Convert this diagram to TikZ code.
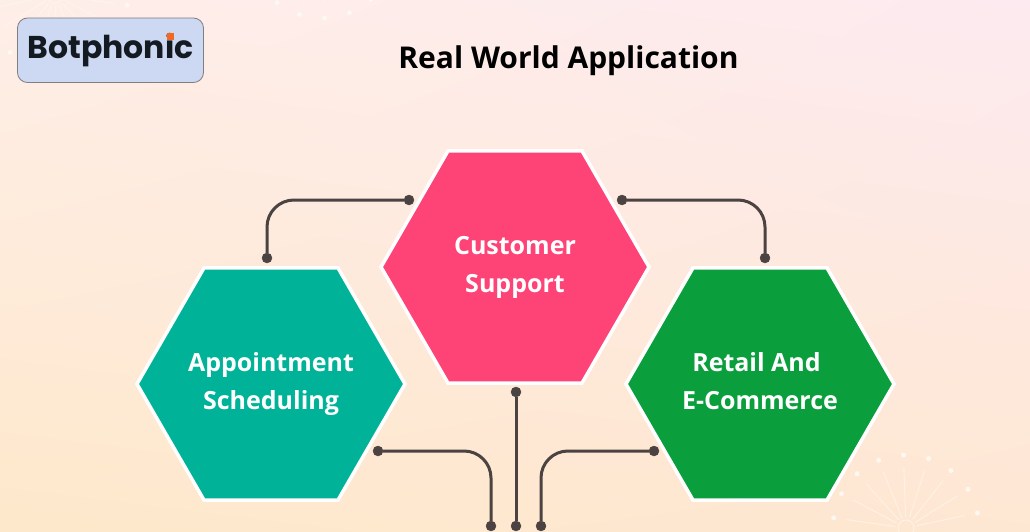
\documentclass[tikz,border=0pt]{standalone}
\usepackage{fontspec}
\setmainfont{Open Sans}
\newfontfamily\logofont{Poppins}
\usetikzlibrary{shapes.geometric,shadings}
\definecolor{linegray}{HTML}{4A4342}
\definecolor{hexpink}{HTML}{FE4376}
\definecolor{hexteal}{HTML}{00B398}
\definecolor{hexgreen}{HTML}{0A9E3C}
\definecolor{logoblue}{HTML}{CDD9F2}
\definecolor{logoink}{HTML}{141A22}
\definecolor{logoorange}{HTML}{F26A1F}
\definecolor{sparkwhite}{HTML}{FFF8F0}
\definecolor{bgll}{HTML}{FEE8CB}
\definecolor{bglr}{HTML}{FEE7D2}
\definecolor{bgul}{HTML}{FEEEE8}
\definecolor{bgur}{HTML}{FDEAF0}
\tikzstyle{hexnode}=[regular polygon,regular polygon sides=6,draw=white,line width=3.5pt,
                     minimum size=268pt,inner sep=-20pt,outer sep=0pt,align=center,
                     text=white,font=\bfseries\fontsize{25}{38}\selectfont]
\tikzstyle{dotnode}=[circle,draw=linegray,fill=linegray,
                     inner sep=0pt,minimum size=10pt]
\tikzstyle{wire}=[draw=linegray,line width=3pt,rounded corners=27pt]
\newcommand{\sparkle}[2]{%
    \foreach \a in {#2} {
      \draw[sparkwhite,line width=1pt,opacity=.6] (#1) ++(\a:11) -- ++(\a:49);
      \fill[sparkwhite] (#1) ++(\a:73) circle (2.5);
    }
    \draw[sparkwhite,line width=1pt,opacity=.6] (#1) circle (8);
}
\begin{document}
\begin{tikzpicture}[x=1pt,y=-1pt]
    \useasboundingbox (0,0) rectangle (1030,532);
    \shade[lower left=bgll,lower right=bglr,upper left=bgul,upper right=bgur]
        (0,0) rectangle (1030,532);
    % background sparkles
    \sparkle{906,528}{188,208,...,352}
    \sparkle{322,-55}{8,28,...,172}
    \sparkle{55,-5}{8,28,...,172}
    % logo and title
    \node (logo) at (110.5,50.25) [draw=gray,fill=logoblue,rounded corners=10pt,line width=.8pt,
        minimum width=186pt,minimum height=64.5pt,inner sep=0pt,
        text=logoink,font=\logofont\bfseries\fontsize{31.5}{31.5}\selectfont] {Botphonic};
    \node (idot) at (170.5,36.7) [fill=logoorange,inner sep=0pt,minimum size=6.5pt] {};
    \node (title) at (568.5,61) [font=\bfseries\fontsize{30}{30}\selectfont] {Real World Application};
    % hexagons
    \node (hexcust) at (515,267) [hexnode,fill=hexpink] {Customer\\Support};
    \node (hexappt) at (271,384) [hexnode,fill=hexteal] {Appointment\\Scheduling};
    \node (hexshop) at (760,384) [hexnode,fill=hexgreen] {Retail And\kern7pt\\E-Commerce\vphantom{g}};
    % connector ends
    \node (r1) at (409,200) [dotnode]{};
    \node (r2) at (267,258) [dotnode]{};
    \node (r3) at (622,200) [dotnode]{};
    \node (r4) at (765,258) [dotnode]{};
    \node (r5) at (516,392) [dotnode]{};
    \node (r6) at (516,526) [dotnode]{};
    \node (r7) at (378,451) [dotnode]{};
    \node (r8) at (491,526) [dotnode]{};
    \node (r9) at (654,451) [dotnode]{};
    \node (r10) at (541,526) [dotnode]{};
    \draw[wire] (r1) -| (r2);
    \draw[wire] (r3) -| (r4);
    \draw[wire] (r5) -- (r6);
    \draw[wire] (r7) -| (r8);
    \draw[wire] (r9) -| (r10);
\end{tikzpicture}
\end{document}
